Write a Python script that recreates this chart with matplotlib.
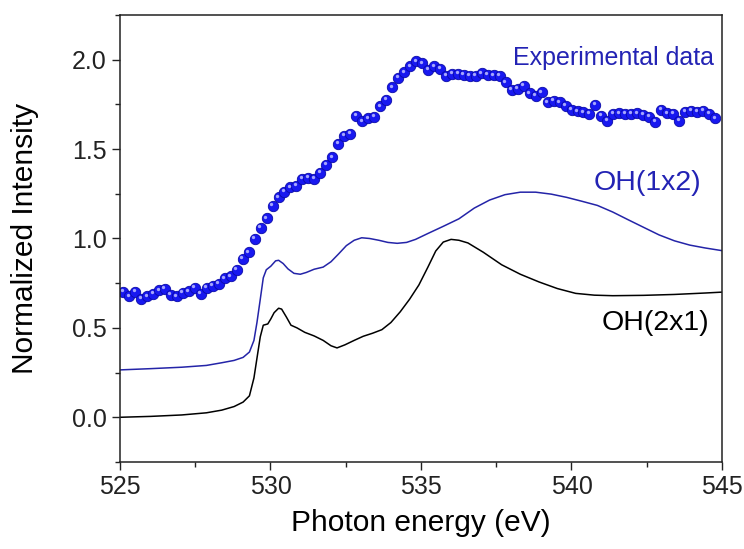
import numpy as np
import matplotlib
matplotlib.use("Agg")
import matplotlib.pyplot as plt
from matplotlib.ticker import MultipleLocator, FormatStrFormatter
from matplotlib.transforms import offset_copy

plt.rcParams['font.family'] = ['Liberation Sans', 'DejaVu Sans']

exp_intensity = [
    0.70, 0.676, 0.70, 0.663, 0.676, 0.69, 0.71, 0.72, 0.685, 0.676,
    0.697, 0.704, 0.725, 0.69, 0.725, 0.737, 0.747, 0.778, 0.788, 0.825,
    0.886, 0.923, 0.998, 1.058, 1.113, 1.184, 1.23, 1.26, 1.287, 1.296,
    1.333, 1.339, 1.333, 1.367, 1.413, 1.454, 1.529, 1.575, 1.585, 1.687,
    1.655, 1.672, 1.682, 1.739, 1.777, 1.845, 1.898, 1.929, 1.963, 1.99,
    1.979, 1.944, 1.963, 1.948, 1.911, 1.92, 1.92, 1.915, 1.911, 1.911,
    1.923, 1.916, 1.913, 1.911, 1.873, 1.831, 1.836, 1.855, 1.812, 1.799,
    1.817, 1.761, 1.771, 1.761, 1.743, 1.719, 1.711, 1.706, 1.697, 1.749,
    1.687, 1.659, 1.697, 1.70, 1.697, 1.697, 1.70, 1.693, 1.682, 1.654,
    1.719, 1.70, 1.697, 1.659, 1.709, 1.715, 1.709, 1.715, 1.697, 1.672,
]
exp_energy = np.linspace(525.1, 544.77, len(exp_intensity))

# OH(1x2) simulated spectrum
oh12_energy = [525.0, 526.02, 527.05, 527.87, 528.38, 528.79, 529.09, 529.30, 529.45, 529.55,
               529.66, 529.76, 529.86, 530.01, 530.17, 530.27, 530.42, 530.58, 530.78, 530.99,
               531.19, 531.45, 531.75, 532.01, 532.27, 532.52, 532.78, 533.03, 533.29, 533.6,
               533.9, 534.21, 534.52, 534.82, 535.23, 535.74, 536.26, 536.77, 537.28, 537.79,
               538.30, 538.81, 539.33, 539.84, 540.35, 540.86, 541.37, 541.88, 542.40, 542.91,
               543.42, 543.93, 544.44, 545.0]
oh12_intensity = [0.265, 0.272, 0.280, 0.290, 0.305, 0.318, 0.335, 0.365, 0.43, 0.53,
                  0.66, 0.78, 0.825, 0.845, 0.875, 0.878, 0.86, 0.83, 0.805, 0.80,
                  0.81, 0.828, 0.84, 0.87, 0.915, 0.96, 0.99, 1.004, 1.0, 0.99,
                  0.978, 0.973, 0.978, 0.995, 1.028, 1.068, 1.11, 1.17, 1.215, 1.245,
                  1.259, 1.259, 1.248, 1.23, 1.208, 1.185, 1.148, 1.105, 1.062, 1.02,
                  0.987, 0.963, 0.947, 0.932]

# OH(2x1) simulated spectrum
oh21_energy = [525.0, 526.02, 527.05, 527.87, 528.38, 528.79, 529.09, 529.30, 529.45, 529.55,
               529.66, 529.76, 529.91, 530.01, 530.12, 530.27, 530.37, 530.53, 530.68, 530.88,
               531.14, 531.45, 531.75, 532.01, 532.21, 532.47, 532.78, 533.08, 533.39, 533.7,
               534.0, 534.31, 534.62, 534.93, 535.23, 535.49, 535.74, 536.0, 536.26, 536.56,
               537.07, 537.68, 538.30, 538.92, 539.53, 540.14, 540.76, 541.37, 542.40, 543.42,
               544.44, 545.0]
oh21_intensity = [0.0, 0.005, 0.013, 0.025, 0.04, 0.06, 0.085, 0.12, 0.22, 0.33,
                  0.45, 0.515, 0.522, 0.55, 0.585, 0.61, 0.605, 0.56, 0.515, 0.50,
                  0.475, 0.455, 0.43, 0.40, 0.388, 0.405, 0.43, 0.453, 0.47, 0.49,
                  0.53, 0.59, 0.66, 0.74, 0.84, 0.93, 0.98, 0.995, 0.99, 0.975,
                  0.923, 0.853, 0.80, 0.757, 0.72, 0.693, 0.683, 0.68, 0.682, 0.687,
                  0.695, 0.70]

fig = plt.figure(figsize=(7.44, 5.49), dpi=100)
ax = fig.add_axes([0.1613, 0.1585, 0.8091, 0.8142])

ax.plot(oh21_energy, oh21_intensity, color='black', lw=1.1)
ax.plot(oh12_energy, oh12_intensity, color='#2424a8', lw=1.1)

# balls with a small highlight to mimic the shaded spheres
ax.plot(exp_energy, exp_intensity, 'o', color='#1818f0', ms=7.5, mec='#0a0aa8', mew=0.6)
shine = offset_copy(ax.transData, fig=fig, x=-1.0, y=1.2, units='points')
ax.plot(exp_energy, exp_intensity, 'o', color='#c0c0ff', ms=2.4, mew=0,
        alpha=0.85, transform=shine)

ax.text(541.38, 2.01, 'Experimental data', color='#2323b4', fontsize=18,
        ha='center', va='center')
ax.text(542.52, 1.31, 'OH(1x2)', color='#2323b4', fontsize=20.5,
        ha='center', va='center')
ax.text(542.8, 0.525, 'OH(2x1)', color='black', fontsize=20.5,
        ha='center', va='center')

ax.set_xlim(525, 545)
ax.set_ylim(-0.25, 2.25)
ax.xaxis.set_major_locator(MultipleLocator(5))
ax.xaxis.set_minor_locator(MultipleLocator(2.5))
ax.yaxis.set_major_locator(MultipleLocator(0.5))
ax.yaxis.set_minor_locator(MultipleLocator(0.25))
ax.yaxis.set_major_formatter(FormatStrFormatter('%.1f'))

ax.tick_params(which='major', direction='out', length=6, width=1,
               labelsize=18, colors='#222222', top=False, right=False)
ax.tick_params(which='minor', direction='out', length=3.5, width=1,
               top=False, right=False, colors='#222222')
for s in ax.spines.values():
    s.set_linewidth(1.1)
    s.set_color('#222222')

ax.set_xlabel('Photon energy (eV)', fontsize=21.5)
ax.set_ylabel('Normalized Intensity', fontsize=21.5)
ax.xaxis.set_label_coords(0.5, -0.105)
ax.yaxis.set_label_coords(-0.135, 0.5)

fig.savefig('out.png', dpi=100)
